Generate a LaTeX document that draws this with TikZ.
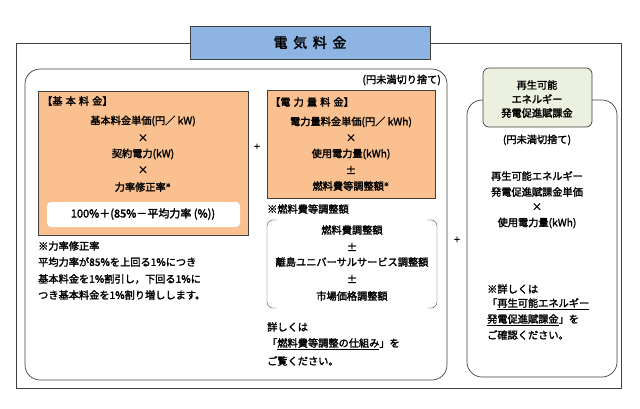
\documentclass[tikz,border=0pt]{standalone}
\usepackage{fontspec}
\setmainfont{Noto Sans CJK JP}[AutoFakeBold=2]
\definecolor{titleblue}{RGB}{141,180,226}
\definecolor{feeorange}{RGB}{250,192,143}
\definecolor{renewgreen}{RGB}{235,241,222}
\usetikzlibrary{positioning}

\tikzset{
  txt/.style={font=\fontsize{10.2}{11}\selectfont\bfseries, inner sep=0pt},
  ltxt/.style={txt, anchor=west},
  frame/.style={draw=black!75, line width=0.7pt},
}
\newcommand{\smallmark}{\textsuperscript{\tiny ※}}

\begin{document}
\begin{tikzpicture}[x=1pt,y=-1pt]
        \useasboundingbox (0,0) rectangle (640,408);
        % outer frame and title
        \draw[frame] (16,43) rectangle (621,388);
        \node[frame, fill=titleblue, minimum width=240, minimum height=33, font=\fontsize{14}{16}\selectfont\bfseries] (title) at (310,42.5) {電\hspace{0.4em}気\hspace{0.4em}料\hspace{0.4em}金};

        % left rounded box
        \draw[frame, rounded corners=15] (25,69) rectangle (447,380);
        \node[txt, anchor=east] (round1) at (441,80) {(円未満切り捨て)};

        % basic fee
        \draw[frame, fill=feeorange] (38,91) rectangle (248,235);
        \node[ltxt] (basichead) at (42,101) {【基\hspace{0.3em}本\hspace{0.3em}料\hspace{0.3em}金】};
        \node[txt] (b1) at (143,121) {基本料金単価(円／ kW)};
        \node[txt] (b2) at (143,138) {×};
        \node[txt] (b3) at (143,154) {契約電力(kW)};
        \node[txt] (b4) at (143,170) {×};
        \node[txt] (b5) at (143,187) {力率修正率\smallmark};
        \draw[fill=white, draw=none, rounded corners=4] (47,202) rectangle (240,227);
        \node[txt, font=\fontsize{11}{12}\selectfont\bfseries] (b6) at (143,214) {100\%＋(85\%－平均力率 (\%))};
        \node[ltxt] (n1) at (38,246) {※力率修正率};
        \node[ltxt] (n2) at (38,262) {平均力率が85\%を上回る1\%につき};
        \node[ltxt] (n3) at (38,279) {基本料金を1\%割引し，下回る1\%に};
        \node[ltxt] (n4) at (38,295) {つき基本料金を1\%割り増しします。};

        \node[txt] (plus1) at (257,147) {+};

        % energy fee
        \draw[frame, fill=feeorange] (267,90) rectangle (435,198);
        \node[ltxt] (energyhead) at (270,102) {【電\hspace{0.3em}力\hspace{0.3em}量\hspace{0.3em}料\hspace{0.3em}金】};
        \node[txt] (e1) at (351,122) {電力量料金単価(円／ kWh)};
        \node[txt] (e2) at (351,138) {×};
        \node[txt] (e3) at (351,154) {使用電力量(kWh)};
        \node[txt] (e4) at (351,170) {±};
        \node[txt] (e5) at (351,186) {燃料費等調整額\smallmark};
        \node[ltxt] (fuelnote) at (267,209) {※燃料費等調整額};
        \draw[black!75, rounded corners=6] (277,220) -- (267,220) -- (267,308) -- (277,308);
        \draw[black!75, rounded corners=6] (427,220) -- (437,220) -- (437,308) -- (427,308);
        \node[txt] (f1) at (352,230) {燃料費調整額};
        \node[txt] (f2) at (352,247) {±};
        \node[txt] (f3) at (352,262) {離島ユニバーサルサービス調整額};
        \node[txt] (f4) at (352,279) {±};
        \node[txt] (f5) at (352,296) {市場価格調整額};
        \node[ltxt] (d1) at (267,327) {詳しくは};
        \node[ltxt] (d2) at (267,344) {「\underline{燃料費等調整の仕組み}」を};
        \node[ltxt] (d3) at (267,361) {ご覧ください。};

        \node[txt] (plus2) at (457,240) {+};

        % renewable levy
        \draw[frame, rounded corners=15] (467,100) rectangle (617,377);
        \draw[frame, fill=renewgreen, rounded corners=6] (483,68) rectangle (592,127);
        \node[txt] (g1) at (537,85) {再生可能};
        \node[txt] (g2) at (537,99) {エネルギー};
        \node[txt] (g3) at (537,113) {発電促進賦課金};
        \node[txt] (r0) at (537,140) {(円未満切捨て)};
        \node[txt] (r1) at (537,176) {再生可能エネルギー};
        \node[txt] (r2) at (537,192) {発電促進賦課金単価};
        \node[txt] (r3) at (537,207) {×};
        \node[txt] (r4) at (537,223) {使用電力量(kWh)};
        \node[ltxt] (s1) at (487,289) {※詳しくは};
        \node[ltxt] (s2) at (487,304) {「\underline{再生可能エネルギー}};
        \node[ltxt] (s3) at (487,320) {\underline{発電促進賦課金}」を};
        \node[ltxt] (s4) at (487,335) {ご確認ください。};
\end{tikzpicture}
\end{document}
